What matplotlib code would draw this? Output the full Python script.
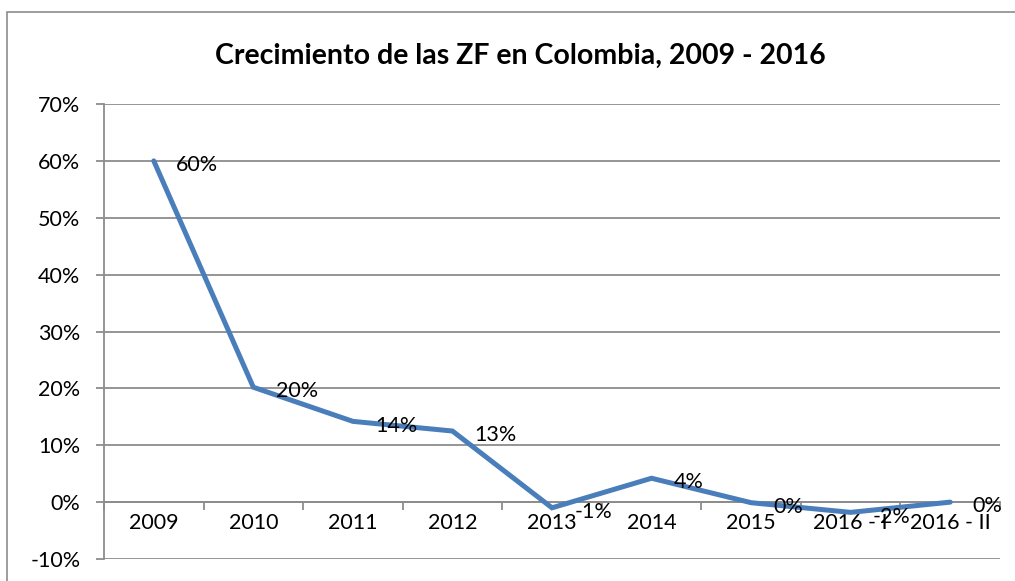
import matplotlib
matplotlib.use("Agg")
import matplotlib.pyplot as plt
from matplotlib.patches import Rectangle
from matplotlib.ticker import FixedLocator, NullFormatter, FixedFormatter

categories = ["2009", "2010", "2011", "2012", "2013", "2014", "2015", "2016 - I", "2016 - II"]
growth = [60.0, 20.2, 14.2, 12.5, -1.0, 4.2, -0.1, -1.8, 0.0]
labels = ["60%", "20%", "14%", "13%", "-1%", "4%", "0%", "-2%", "0%"]
yticks = [-10, 0, 10, 20, 30, 40, 50, 60, 70]
title = "Crecimiento de las ZF en Colombia, 2009 - 2016"

plt.rcParams['font.family'] = ['Lato', 'DejaVu Sans']

W, H = 1015, 581
fig = plt.figure(figsize=(W / 100, H / 100), dpi=100)
fig.patch.set_facecolor("white")

# outer chart border
fig.patches.append(Rectangle((7 / W, -0.05), 1.2, (H - 12) / H + 0.05,
                             transform=fig.transFigure, fill=False,
                             edgecolor="#8c8c8c", linewidth=1.2))

left, right = 104 / W, 1000 / W
bottom, top = 1 - 559 / H, 1 - 104 / H
ax = fig.add_axes([left, bottom, right - left, top - bottom])

grid_c = "#8c8c8c"
fs = 15.5
x = [i + 0.5 for i in range(len(categories))]
ax.plot(x, growth, color="#4A7EBB", linewidth=3.6, solid_capstyle="round",
        solid_joinstyle="miter", zorder=3)

for xi, yi, lab in zip(x, growth, labels):
    ax.annotate(lab, (xi, yi), xytext=(16, -3), textcoords="offset points",
                ha="left", va="center", fontsize=fs, color="black", zorder=4)

ax.set_xlim(0, len(categories))
ax.set_ylim(-10, 70)
for v in yticks:
    ax.axhline(v, color=grid_c, linewidth=1.3, zorder=1)

ax.set_yticks(yticks)
ax.set_yticklabels([f"{v}%" for v in yticks], fontsize=fs)
ax.tick_params(axis="y", direction="out", length=6, width=1.3, color=grid_c, pad=11)

for s in ["top", "right"]:
    ax.spines[s].set_visible(False)
ax.spines["left"].set_color(grid_c)
ax.spines["left"].set_linewidth(1.3)
ax.spines["bottom"].set_position(("data", 0))
ax.spines["bottom"].set_color(grid_c)
ax.spines["bottom"].set_linewidth(1.3)

ax.xaxis.set_major_locator(FixedLocator(list(range(len(categories) + 1))))
ax.xaxis.set_major_formatter(NullFormatter())
ax.xaxis.set_minor_locator(FixedLocator(x))
ax.xaxis.set_minor_formatter(FixedFormatter(categories))
ax.tick_params(axis="x", which="major", direction="out", length=6, width=1.3, color=grid_c)
ax.tick_params(axis="x", which="minor", length=0, pad=8, labelsize=fs)

fig.text(520 / W, 1 - 56 / H, title, ha="center", va="center",
         fontsize=20.5, fontweight="bold")

fig.savefig("out.png", dpi=100, facecolor="white")
